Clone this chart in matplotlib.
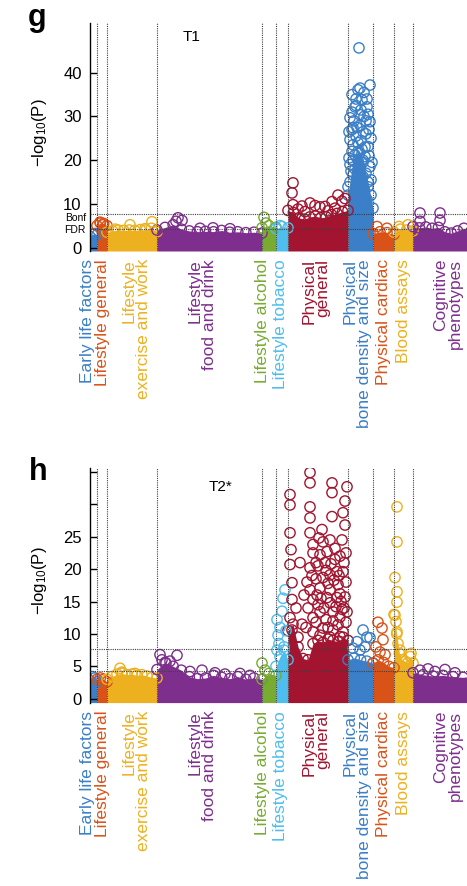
import matplotlib
matplotlib.use('Agg')
import matplotlib.pyplot as plt
import matplotlib.transforms as mtransforms
import numpy as np

plt.rcParams['font.family'] = ['Liberation Sans', 'DejaVu Sans']
plt.rcParams['mathtext.default'] = 'regular'

# categorias de variaveis (ordem do eixo x) e numero de variaveis em cada uma
categorias = ['Early life factors', 'Lifestyle general', 'Lifestyle\nexercise and work',
              'Lifestyle\nfood and drink', 'Lifestyle alcohol', 'Lifestyle tobacco',
              'Physical\ngeneral', 'Physical\nbone density and size', 'Physical cardiac',
              'Blood assays', 'Cognitive\nphenotypes']
n_vars = [7, 10, 50, 105, 14, 12, 60, 25, 21, 19, 70]
cores = ['#3a7fc8', '#d95319', '#edb120', '#7e2f8e', '#77ac30', '#4dbeee',
         '#a2142f', '#3a7fc8', '#d95319', '#edb120', '#7e2f8e']

bonf = 7.65
fdr_t1 = 4.2
fdr_t2 = 4.3

# topo da faixa densa de pontos, por categoria (T1)
faixa_t1 = [
    [2.5, 3.0, 3.2, 2.9],
    [5.0, 5.6, 5.5, 5.0],
    [3.5, 3.8, 4.0, 3.9, 4.0, 3.9, 4.1, 4.0, 4.4, 3.6],
    [4.0, 4.6, 5.2, 4.2, 3.8, 3.6, 3.7, 3.6, 3.9, 3.5, 3.6, 3.4, 3.5, 3.3],
    [4.5, 5.0, 4.6],
    [4.3, 4.8, 4.5],
    [8.5, 8.0, 6.8, 6.5, 7.0, 7.2, 6.8, 7.0, 7.5, 7.8, 8.2, 8.5],
    [12.0, 20.0, 22.0, 20.0, 15.0, 9.0],
    [3.2, 3.6, 3.4, 3.0],
    [3.5, 4.2, 4.0, 3.8],
    [4.8, 4.5, 4.7, 4.4, 4.6, 3.6, 3.3, 3.8, 4.4, 3.5, 3.6, 3.5],
]
# pontos isolados acima da faixa (T1)
x_t1 = [10, 13, 40, 62, 55, 25, 88, 86, 92, 123, 110, 140, 174, 176, 190,
        203, 202, 203, 220, 242, 248, 230, 208, 212, 225, 235, 245, 252, 255, 215, 238,
        269, 280, 268, 262, 272, 265, 277, 260, 270, 280, 263, 273, 260, 268, 278, 265,
        275, 260, 270, 280, 263, 273, 258, 278, 266, 274, 278, 262, 270, 276, 266, 272,
        262, 279, 268, 276, 259, 281, 264, 274, 270, 277, 261, 281, 267, 273,
        259, 263, 267, 271, 275, 279, 282, 260, 265, 269, 274, 277, 281, 271, 266, 276,
        262, 268,
        287, 297, 309, 318, 330, 330, 350, 350]
y_t1 = [5.8, 5.2, 5.2, 5.9, 4.3, 4.2, 6.8, 6.0, 6.2, 4.5, 4.4, 4.3, 6.9, 5.6, 5.0,
        14.8, 12.5, 9.8, 10.2, 10.5, 12.0, 9.3, 8.8, 9.5, 9.6, 9.4, 9.0, 10.6, 11.2, 8.2, 8.4,
        45.7, 37.2, 36.1, 35.0, 33.8, 32.2, 32.2, 29.7, 30.4, 28.8, 27.4, 26.5, 24.7, 24.0,
        23.1, 21.2, 20.8, 19.0, 18.5, 18.5, 16.6, 16.2, 13.9, 13.9, 34.0, 35.5, 30.5, 31.0,
        28.0, 26.0, 25.5, 22.5, 22.0, 21.0, 20.0, 17.0, 26.5, 25.0, 29.0, 30.0, 36.5, 34.0,
        17.5, 15.5, 14.5, 19.5,
        20.5, 23.5, 27.5, 24.5, 23.0, 27.0, 19.5, 15.0, 18.0, 21.5, 13.5, 11.0, 12.0, 31.5,
        32.5, 29.0, 27.0, 17.0,
        4.8, 4.4, 4.8, 5.2, 7.9, 6.0, 7.9, 6.2]

# topo da faixa densa de pontos, por categoria (T2*)
faixa_t2 = [
    [2.8, 3.4, 3.2, 2.6],
    [3.0, 3.2, 3.0, 2.6],
    [3.0, 3.4, 3.8, 3.9, 3.7, 3.8, 3.6, 3.7, 3.5, 3.3, 3.2],
    [4.5, 5.6, 5.0, 4.4, 3.4, 3.1, 3.2, 3.6, 3.3, 3.1, 3.4, 3.0, 3.2, 3.0],
    [3.0, 3.9, 3.6],
    [5.0, 6.5, 7.5, 6.0],
    [10.5, 11.5, 8.0, 6.2, 6.0, 8.5, 9.0, 8.7, 9.2, 9.0, 8.8, 9.5, 9.0],
    [6.0, 6.3, 6.0, 5.8, 5.5],
    [5.5, 6.0, 5.6, 5.0, 4.8],
    [13.0, 10.0, 7.0, 6.0, 5.8, 5.5, 6.5, 5.5],
    [4.0, 3.7, 3.5, 3.6, 3.4, 3.3, 3.5, 3.4],
]
# pontos isolados acima da faixa (T2*)
x_t2 = [32, 30, 45, 70, 87, 72, 76, 100, 112, 125, 135, 150, 160, 80, 172, 175,
        195, 193, 187, 190, 188, 192, 196, 189, 194, 187,
        220, 220, 242, 242, 257, 200, 200, 220, 220, 242, 253, 255, 200, 220, 232, 223,
        233, 240, 252, 223, 230, 237, 200, 220, 202, 233, 240, 247, 253, 220, 230, 240,
        248, 202, 223, 237, 247, 255, 200, 223, 230, 243, 250, 257, 202, 223, 233, 243,
        253, 255, 256, 254, 256, 254, 256, 228, 235, 245, 250, 226, 238, 244, 250, 228,
        234, 240, 246, 252, 226, 236, 248, 230, 240, 250, 222, 218, 216, 201,
        206, 208, 212, 214, 226, 229, 236, 241, 245, 249, 251, 238, 243, 231, 227, 217, 210,
        273, 277, 280, 267, 263, 270, 275,
        288, 292, 293, 290, 286, 295,
        307, 307, 305, 307, 307, 305, 306, 307, 308, 321, 310,
        330, 338, 345, 355, 365]
y_t2 = [4.1, 4.7, 3.9, 6.8, 6.7, 6.0, 5.5, 4.2, 4.4, 4.0, 3.8, 3.9, 3.6, 5.8, 5.5, 4.4,
        16.8, 15.5, 12.2, 11.0, 9.8, 13.5, 10.5, 8.5, 8.0, 7.5,
        34.9, 33.3, 33.3, 31.8, 32.7, 31.5, 29.9, 29.6, 27.9, 28.1, 28.7, 26.8, 25.6, 25.6,
        26.1, 23.8, 24.2, 24.5, 24.5, 22.5, 22.2, 22.7, 20.7, 20.2, 17.9, 18.7, 19.1, 19.6,
        19.6, 16.8, 17.1, 16.8, 17.6, 15.3, 15.3, 15.6, 15.6, 15.7, 12.5, 12.5, 13.4, 13.4,
        12.6, 13.4, 10.6, 10.3, 10.9, 10.6, 10.3, 30.5, 22.5, 21.0, 18.0, 14.0, 11.8, 20.5,
        21.0, 21.5, 22.0, 18.5, 17.8, 18.3, 16.2, 14.5, 14.0, 14.8, 14.2, 13.8, 11.8, 12.2,
        11.4, 9.8, 9.5, 9.6, 19.0, 14.0, 11.0, 23.0,
        14.0, 9.5, 11.5, 16.0, 21.0, 24.8, 19.8, 20.8, 23.2, 19.0, 15.0, 11.0, 12.0, 15.5,
        16.0, 18.0, 21.0,
        10.6, 9.5, 9.4, 8.8, 7.8, 7.5, 8.0,
        11.8, 10.9, 9.1, 7.2, 8.0, 6.8,
        29.6, 24.2, 18.7, 16.5, 14.9, 12.9, 11.9, 10.3, 8.5, 7.0, 7.5,
        4.4, 4.6, 4.2, 4.5, 4.0]

bordas = np.concatenate([[0], np.cumsum(n_vars)])
desloc_rotulo = [-6, 0, 4, -7, -7, -1, -2, -3, 0, 0, 0]


def constroiPainel(ax, faixas, xs, ys, fdr, ylim, yticks, ylabels, titulo, pos_titulo):
    # faixa densa
    for i, topo in enumerate(faixas):
        xx = np.linspace(bordas[i], bordas[i + 1], len(topo))
        ax.fill_between(xx, ylim[0], topo, color=cores[i], lw=0, zorder=1)
        ax.scatter(xx, topo, s=55, facecolors='none', edgecolors=cores[i], lw=1.0, zorder=2)
    # pontos acima da faixa
    idx = np.searchsorted(bordas, xs, side='right') - 1
    ax.scatter(xs, ys, s=55, facecolors='none', edgecolors=[cores[k] for k in idx],
               lw=1.0, zorder=2)
    # linhas de limiar e divisões entre categorias
    for e in bordas[1:-1]:
        ax.axvline(e, color='0.25', ls=(0, (1, 1)), lw=0.8, zorder=3)
    for h in [bonf, fdr]:
        ax.axhline(h, color='0.25', ls=(0, (1, 1)), lw=0.8, zorder=3)

    ax.set_xlim(0, 377)
    ax.set_ylim(*ylim)
    ax.set_xticks([])
    ax.set_yticks(yticks)
    ax.set_yticklabels(ylabels)
    ax.tick_params(axis='y', direction='in', length=5, width=1, labelsize=12, pad=6)
    for s in ['top', 'right', 'bottom']:
        ax.spines[s].set_visible(False)
    ax.spines['left'].set_linewidth(1)

    ax.text(-0.135, 0.52, '−log$_{10}$(P)', transform=ax.transAxes, rotation=90,
            ha='center', va='center', fontsize=12)
    ax.text(pos_titulo[0], pos_titulo[1], titulo, transform=ax.transAxes,
            ha='center', va='center', fontsize=11)

    # rótulos das categorias
    trans = mtransforms.blended_transform_factory(ax.transData, ax.transAxes)
    for i, nome in enumerate(categorias):
        xc = (bordas[i] + bordas[i + 1]) / 2 + desloc_rotulo[i]
        ax.text(xc, -0.035, nome, transform=trans, rotation=90, ha='center', va='top',
                multialignment='right', color=cores[i], fontsize=12.5, linespacing=0.92,
                clip_on=False)


fig = plt.figure(figsize=(4.67, 8.86), dpi=100)

ax1 = fig.add_axes([90 / 467, 1 - 251 / 886, 377 / 467, 228 / 886])
constroiPainel(ax1, faixa_t1, x_t1, y_t1, fdr_t1, (-0.8, 51.4),
               [0, fdr_t1, bonf, 10, 20, 30, 40], ['0', 'FDR', 'Bonf', '10', '20', '30', '40'],
               'T1', (0.27, 0.939))
ticks1 = ax1.yaxis.get_major_ticks()
for i in [1, 2]:
    ticks1[i].tick1line.set_visible(False)
    ticks1[i].label1.set_fontsize(7.5)
    ticks1[i].set_pad(3)
# Bonf um pouco abaixo para não encostar no 10
ticks1[2].label1.set_transform(ticks1[2].label1.get_transform() +
                               mtransforms.ScaledTranslation(0, -2 / 72, fig.dpi_scale_trans))

ax2 = fig.add_axes([90 / 467, 1 - 702.6 / 886, 377 / 467, 234.6 / 886])
constroiPainel(ax2, faixa_t2, x_t2, y_t2, fdr_t2, (-0.6, 35.6),
               [0, 5, 10, 15, 20, 25, 30, 35], ['0', '5', '10', '15', '20', '25', '', ''],
               'T2*', (0.347, 0.919))

fig.text(28 / 467, 1 - 26 / 886, 'g', fontsize=22, fontweight='bold', va='baseline')
fig.text(29 / 467, 1 - 480 / 886, 'h', fontsize=22, fontweight='bold', va='baseline')

fig.savefig('out.png', dpi=100)
